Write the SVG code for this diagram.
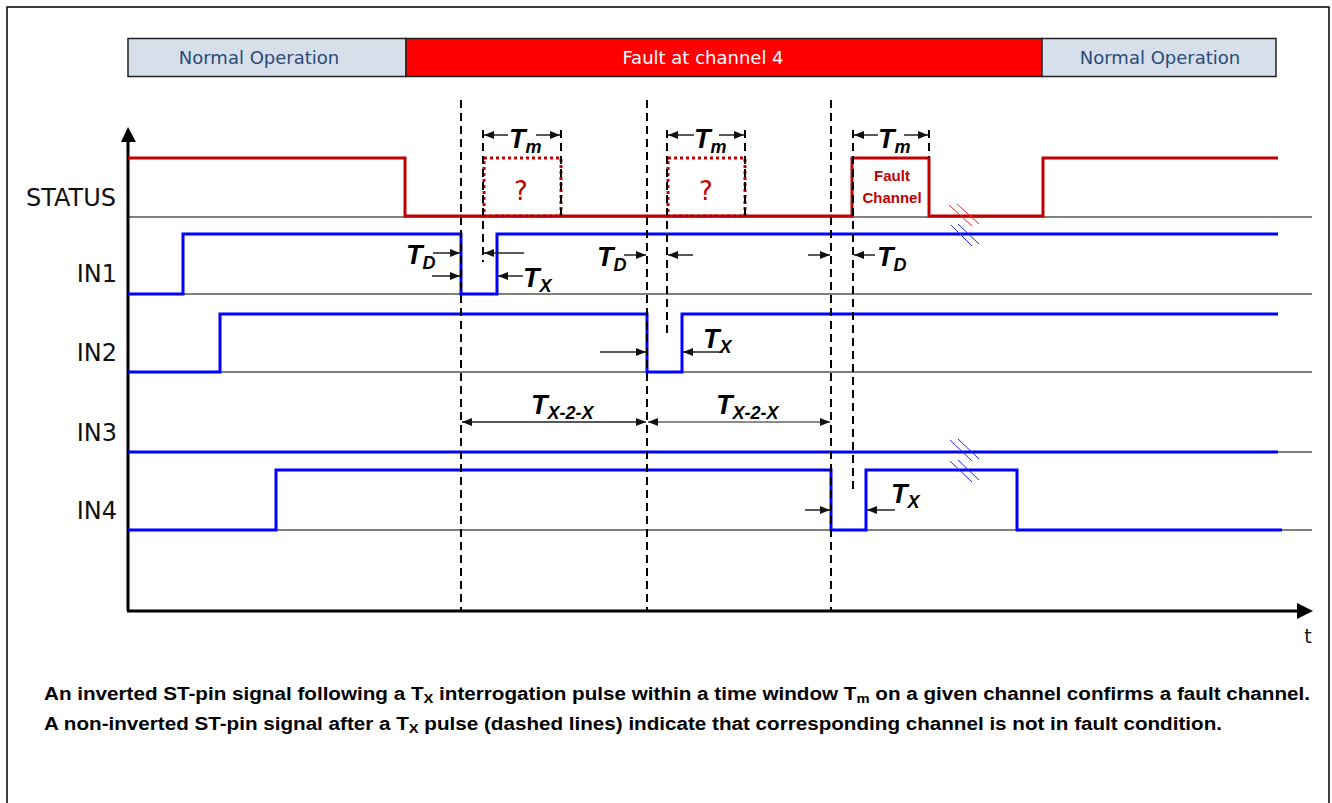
<svg xmlns="http://www.w3.org/2000/svg" width="1332" height="803" viewBox="0 0 1332 803">
<style>
.lbl{font-family:"DejaVu Sans",Verdana,sans-serif;font-size:24px;fill:#111}
.bar{font-family:"DejaVu Sans",Verdana,sans-serif;font-size:18px}
.tl{font-family:"Liberation Sans",Arial,sans-serif;font-size:27px;font-weight:bold;font-style:italic;fill:#000}
.sub{font-size:18px}
.base{stroke:#000;stroke-width:1;fill:none}
.red{stroke:#c00000;stroke-width:3;fill:none}
.blue{stroke:#0000ff;stroke-width:3;fill:none}
.dash{stroke:#000;stroke-width:2;stroke-dasharray:8 5;fill:none}
.dot{stroke:#c00000;stroke-width:3;stroke-dasharray:3 3;fill:none}
.dim{stroke:#222;stroke-width:1.5;fill:none;marker-end:url(#ah)}
.dim2{stroke:#222;stroke-width:1.5;fill:none;marker-end:url(#ah);marker-start:url(#ah)}
.brk-r{stroke:#ff2020;stroke-width:1}
.brk-b{stroke:#2020ff;stroke-width:1}
.note{font-family:"Liberation Sans",Arial,sans-serif;font-size:17.5px;font-weight:bold;fill:#000}
.fc{font-family:"Liberation Sans",Arial,sans-serif;font-size:15px;font-weight:bold;fill:#c00000}
.q{font-family:"DejaVu Sans",Verdana,sans-serif;font-size:26px;fill:#c00000}
</style>
<defs>
<marker id="ah" markerUnits="userSpaceOnUse" markerWidth="10" markerHeight="8" refX="10" refY="4" orient="auto-start-reverse">
<path d="M0,0 L10,4 L0,8 z" fill="#111"/>
</marker>
</defs>
<rect x="0" y="0" width="1332" height="803" fill="#fff"/>
<rect x="7" y="7" width="1322" height="820" fill="none" stroke="#000" stroke-width="1.5"/>

<g id="phase-bar">
<rect x="128" y="38.500" width="278" height="38" fill="#d6dfea" stroke="#222" stroke-width="1.5"/>
<rect x="406" y="38.500" width="636" height="38" fill="#ff0000" stroke="#222" stroke-width="1.5"/>
<rect x="1042" y="38.500" width="234" height="38" fill="#d6dfea" stroke="#222" stroke-width="1.5"/>
<text class="bar" x="259" y="64" text-anchor="middle" fill="#2b4a78">Normal Operation</text>
<text class="bar" x="703" y="64" text-anchor="middle" fill="#ffffff">Fault at channel 4</text>
<text class="bar" x="1160" y="64" text-anchor="middle" fill="#2b4a78">Normal Operation</text>
</g>

<g id="axes">
<line x1="128" y1="140" x2="128" y2="611" stroke="#000" stroke-width="3"/>
<polygon points="128,127 121,142 136,142" fill="#000"/>
<line x1="127" y1="611" x2="1299" y2="611" stroke="#000" stroke-width="3"/>
<polygon points="1313,611 1297,603 1297,619" fill="#000"/>
<text class="lbl" x="1308" y="643" text-anchor="middle" style="font-size:19px">t</text>
<line class="base" x1="128" y1="217" x2="1312" y2="217"/>
<line class="base" x1="128" y1="294" x2="1312" y2="294"/>
<line class="base" x1="128" y1="372" x2="1312" y2="372"/>
<line class="base" x1="128" y1="452" x2="1312" y2="452"/>
<line class="base" x1="128" y1="530" x2="1312" y2="530"/>
</g>

<g id="signal-labels">
<text class="lbl" x="116" y="206" text-anchor="end">STATUS</text>
<text class="lbl" x="117" y="282" text-anchor="end">IN1</text>
<text class="lbl" x="117" y="361" text-anchor="end">IN2</text>
<text class="lbl" x="117" y="441" text-anchor="end">IN3</text>
<text class="lbl" x="117" y="519" text-anchor="end">IN4</text>
</g>

<g id="status">
<polyline class="red" points="128,158 405,158 405,216 852,216 852,158 929,158 929,216 1043,216 1043,158 1278,158"/>
<rect class="dot" x="484" y="158" width="77" height="58"/>
<rect class="dot" x="668" y="158" width="77" height="58"/>
<text class="q" x="521" y="200" text-anchor="middle">?</text>
<text class="q" x="706" y="200" text-anchor="middle">?</text>
<text class="fc" x="892" y="181" text-anchor="middle">Fault</text>
<text class="fc" x="892" y="203" text-anchor="middle">Channel</text>
<line class="brk-r" x1="949" y1="205" x2="972" y2="226"/>
<line class="brk-r" x1="957" y1="204" x2="979" y2="224"/>
</g>

<g id="in1">
<polyline class="blue" points="128,294 183,294 183,234 461,234 461,294 497,294 497,234 1278,234"/>
<line class="brk-b" x1="951" y1="225" x2="972" y2="246"/>
<line class="brk-b" x1="958" y1="224" x2="979" y2="244"/>
</g>
<g id="in2">
<polyline class="blue" points="128,372 220,372 220,314 647,314 647,372 682,372 682,314 1278,314"/>
</g>
<g id="in3">
<polyline class="blue" points="128,452 1278,452"/>
<line class="brk-b" x1="950" y1="440" x2="972" y2="461"/>
<line class="brk-b" x1="958" y1="439" x2="979" y2="459"/>
</g>
<g id="in4">
<polyline class="blue" points="128,530 276,530 276,470 831,470 831,530 866,530 866,470 1017,470 1017,530 1282,530"/>
<line class="brk-b" x1="950" y1="461" x2="972" y2="482"/>
<line class="brk-b" x1="958" y1="460" x2="979" y2="480"/>
</g>

<g id="connectors">
<line class="dash" x1="461" y1="100" x2="461" y2="611"/>
<line class="dash" x1="647" y1="100" x2="647" y2="611"/>
<line class="dash" x1="831" y1="100" x2="831" y2="611"/>
<line class="dash" x1="483" y1="130" x2="483" y2="262"/>
<line class="dash" x1="667" y1="130" x2="667" y2="336"/>
<line class="dash" x1="853" y1="130" x2="853" y2="491"/>
<line class="dash" x1="561" y1="130" x2="561" y2="216"/>
<line class="dash" x1="745" y1="130" x2="745" y2="216"/>
<line class="dash" x1="929" y1="130" x2="929" y2="158"/>

<line class="dim" x1="508" y1="135" x2="484" y2="135"/>
<line class="dim" x1="536" y1="135" x2="560" y2="135"/>
<line class="dim" x1="694" y1="135" x2="668" y2="135"/>
<line class="dim" x1="719" y1="135" x2="744" y2="135"/>
<line class="dim" x1="878" y1="135" x2="854" y2="135"/>
<line class="dim" x1="904" y1="135" x2="928" y2="135"/>

<line class="dim" x1="433" y1="253" x2="460" y2="253"/>
<line class="dim" x1="432" y1="276" x2="460" y2="276"/>
<line class="dim" x1="524" y1="253" x2="484" y2="253"/>
<line class="dim" x1="523" y1="276" x2="498" y2="276"/>

<line class="dim" x1="624" y1="255" x2="646" y2="255"/>
<line class="dim" x1="693" y1="255" x2="668" y2="255"/>
<line class="dim" x1="808" y1="255" x2="830" y2="255"/>
<line class="dim" x1="875" y1="255" x2="854" y2="255"/>

<line class="dim" x1="600" y1="352" x2="646" y2="352"/>
<line class="dim" x1="723" y1="352" x2="683" y2="352"/>

<line class="dim" x1="805" y1="510" x2="830" y2="510"/>
<line class="dim" x1="895" y1="510" x2="867" y2="510"/>

<line class="dim2" x1="462" y1="422" x2="646" y2="422"/>
<line class="dim2" x1="648" y1="422" x2="830" y2="422" style="stroke:#666"/>
</g>

<g id="timing-labels">
<text class="tl" x="509" y="148">T<tspan class="sub" dy="5">m</tspan></text>
<text class="tl" x="694" y="148">T<tspan class="sub" dy="5">m</tspan></text>
<text class="tl" x="878" y="148">T<tspan class="sub" dy="5">m</tspan></text>
<text class="tl" x="406" y="264">T<tspan class="sub" dy="5">D</tspan></text>
<text class="tl" x="523" y="287">T<tspan class="sub" dy="5">X</tspan></text>
<text class="tl" x="597" y="266">T<tspan class="sub" dy="5">D</tspan></text>
<text class="tl" x="877" y="266">T<tspan class="sub" dy="5">D</tspan></text>
<text class="tl" x="703" y="348">T<tspan class="sub" dy="5">X</tspan></text>
<text class="tl" x="891" y="503">T<tspan class="sub" dy="5">X</tspan></text>
<text class="tl" x="531" y="414">T<tspan class="sub" dy="5">X-2-X</tspan></text>
<text class="tl" x="716" y="414">T<tspan class="sub" dy="5">X-2-X</tspan></text>
</g>

<g id="caption">
<text class="note" x="44" y="700" textLength="1266" lengthAdjust="spacingAndGlyphs">An inverted ST-pin signal following a T<tspan font-size="12.5px" dy="3">X</tspan><tspan dy="-3"> interrogation pulse within a time window T</tspan><tspan font-size="12.5px" dy="3">m</tspan><tspan dy="-3"> on a given channel confirms a fault channel.</tspan></text>
<text class="note" x="44" y="730" textLength="1178" lengthAdjust="spacingAndGlyphs">A non-inverted ST-pin signal after a T<tspan font-size="12.5px" dy="3">X</tspan><tspan dy="-3"> pulse (dashed lines) indicate that corresponding channel is not in fault condition.</tspan></text>
</g>
</svg>
